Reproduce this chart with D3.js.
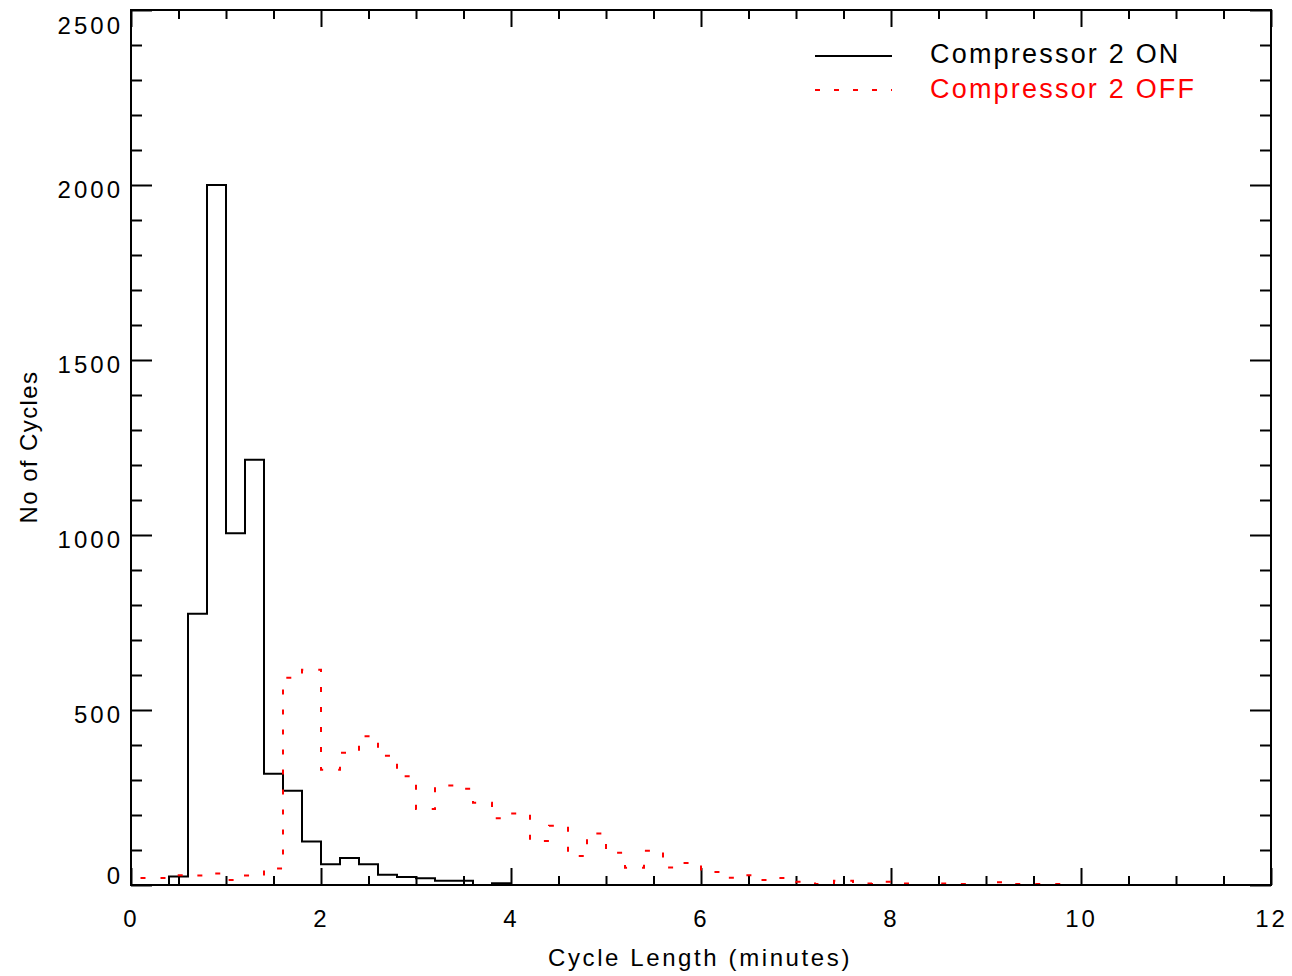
<!DOCTYPE html>
<html>
<head>
<meta charset="utf-8">
<script src="https://cdn.jsdelivr.net/npm/d3@7"></script>
<style>
  body { margin: 0; background: #ffffff; }
  svg text { font-family: "Liberation Sans", Arial, Helvetica, sans-serif; }
</style>
</head>
<body>
<svg id="chart" width="1292" height="976"></svg>
<script>
// Histogram bin centres (minutes), 0.2-minute bins
const binCenters = [
  0.1, 0.3, 0.5, 0.7, 0.9, 1.1, 1.3, 1.5, 1.7, 1.9,
  2.1, 2.3, 2.5, 2.7, 2.9, 3.1, 3.3, 3.5, 3.7, 3.9,
  4.1, 4.3, 4.5, 4.7, 4.9, 5.1, 5.3, 5.5, 5.7, 5.9,
  6.1, 6.3, 6.5, 6.7, 6.9, 7.1, 7.3, 7.5, 7.7, 7.9,
  8.1, 8.3, 8.5, 8.7, 8.9, 9.1, 9.3, 9.5, 9.7, 9.9
];

// Number of cycles per bin, compressor 2 ON
const onCounts = [
  0, 0, 24, 775, 2000, 1005, 1215, 318, 269, 124,
  59, 77, 59, 29, 23, 19, 12, 12, 0, 5,
  0, 0, 0, 0, 0, 0, 0, 0, 0, 0,
  0, 0, 0, 0, 0, 0, 0, 0, 0, 0,
  0, 0, 0, 0, 0, 0, 0, 0, 0, 0
];

// Number of cycles per bin, compressor 2 OFF
const offCounts = [
  20, 20, 28, 27, 33, 14, 27, 47, 592, 615,
  329, 378, 425, 369, 311, 217, 284, 275, 235, 191,
  204, 126, 169, 83, 147, 92, 49, 98, 50, 63,
  37, 21, 28, 14, 20, 9, 3, 12, 4, 9,
  4, 0, 4, 3, 0, 8, 3, 3, 3, 0
];

const xTicks = [0, 2, 4, 6, 8, 10, 12];
const yTicks = [0, 500, 1000, 1500, 2000, 2500];
const seriesNames = ["Compressor 2 ON", "Compressor 2 OFF"];
const seriesColors = ["#000000", "#ff0000"];

const W = 1292, H = 976;
const margin = { left: 131, right: 21, top: 10, bottom: 91 };
const iw = W - margin.left - margin.right;
const ih = H - margin.top - margin.bottom;

const svg = d3.select("#chart");
svg.append("rect").attr("width", W).attr("height", H).attr("fill", "#fff");

const g = svg.append("g").attr("transform", `translate(${margin.left},${margin.top})`);

const x = d3.scaleLinear().domain([0, 12]).range([0, iw]);
const y = d3.scaleLinear().domain([0, 2500]).range([ih, 0]);

const xMinor = d3.range(0, 12.001, 0.5).filter(v => v % 2 !== 0);
const yMinor = d3.range(0, 2500.1, 100).filter(v => v % 500 !== 0);

function styleAxis(sel) {
  sel.select(".domain").remove();
  sel.selectAll(".tick line").attr("stroke", "#000").attr("stroke-width", 2);
  sel.selectAll("text")
    .attr("fill", "#000")
    .style("font-size", "24px")
    .style("letter-spacing", "3px");
}

// Left axis: major ticks with labels, minor ticks
const yAxisG = g.append("g")
  .call(d3.axisLeft(y).tickValues(yTicks).tickSizeInner(-21).tickSizeOuter(0)
    .tickPadding(8).tickFormat(d3.format("d")))
  .call(styleAxis);
// keep the end labels inside the plot frame
yAxisG.selectAll(".tick text")
  .attr("dy", d => d === 2500 ? "0.98em" : d === 0 ? "-0.05em" : "0.5em");
g.append("g")
  .call(d3.axisLeft(y).tickValues(yMinor).tickSize(-11).tickFormat(""))
  .call(styleAxis);

// Right axis (ticks only)
g.append("g").attr("transform", `translate(${iw},0)`)
  .call(d3.axisRight(y).tickValues(yTicks).tickSize(-21).tickFormat(""))
  .call(styleAxis);
g.append("g").attr("transform", `translate(${iw},0)`)
  .call(d3.axisRight(y).tickValues(yMinor).tickSize(-11).tickFormat(""))
  .call(styleAxis);

// Bottom axis
g.append("g").attr("transform", `translate(0,${ih})`)
  .call(d3.axisBottom(x).tickValues(xTicks).tickSizeInner(-17).tickSizeOuter(0)
    .tickPadding(25).tickFormat(d3.format("d")))
  .call(styleAxis);
g.append("g").attr("transform", `translate(0,${ih})`)
  .call(d3.axisBottom(x).tickValues(xMinor).tickSize(-9).tickFormat(""))
  .call(styleAxis);

// Top axis (ticks only)
g.append("g")
  .call(d3.axisTop(x).tickValues(xTicks).tickSize(-17).tickFormat(""))
  .call(styleAxis);
g.append("g")
  .call(d3.axisTop(x).tickValues(xMinor).tickSize(-9).tickFormat(""))
  .call(styleAxis);

// Histogram step lines, steps halfway between bin centres
const stepLine = d3.line()
  .x(d => x(d[0]))
  .y(d => y(d[1]))
  .curve(d3.curveStep);

const onData = binCenters.map((c, i) => [c, onCounts[i]]);
const offData = binCenters.map((c, i) => [c, offCounts[i]]);

g.append("path")
  .datum(onData)
  .attr("d", stepLine)
  .attr("fill", "none")
  .attr("stroke", seriesColors[0])
  .attr("stroke-width", 2);

g.append("path")
  .datum(offData)
  .attr("d", stepLine)
  .attr("fill", "none")
  .attr("stroke", seriesColors[1])
  .attr("stroke-width", 2)
  .attr("stroke-dasharray", "5,15");

// Plot frame
g.append("rect")
  .attr("x", 0).attr("y", 0).attr("width", iw).attr("height", ih)
  .attr("fill", "none").attr("stroke", "#000").attr("stroke-width", 2);

// Axis titles
svg.append("text")
  .attr("x", 700).attr("y", 966)
  .attr("text-anchor", "middle")
  .style("font-size", "24px").style("letter-spacing", "2.6px")
  .attr("fill", "#000")
  .text("Cycle Length (minutes)");

svg.append("text")
  .attr("transform", "translate(37,447) rotate(-90)")
  .attr("text-anchor", "middle")
  .style("font-size", "24px").style("letter-spacing", "1.4px")
  .attr("fill", "#000")
  .text("No of Cycles");

// Legend
const legend = svg.append("g");
const legendRows = [
  { y: 56, base: 63, dash: null },
  { y: 90, base: 98, dash: "5,14" }
];
legendRows.forEach((r, i) => {
  legend.append("line")
    .attr("x1", 815).attr("x2", 892).attr("y1", r.y).attr("y2", r.y)
    .attr("stroke", seriesColors[i]).attr("stroke-width", 2)
    .attr("stroke-dasharray", r.dash);
  legend.append("text")
    .attr("x", 930).attr("y", r.base)
    .style("font-size", "27px").style("letter-spacing", "2.2px")
    .attr("fill", seriesColors[i])
    .text(seriesNames[i]);
});
</script>
</body>
</html>
